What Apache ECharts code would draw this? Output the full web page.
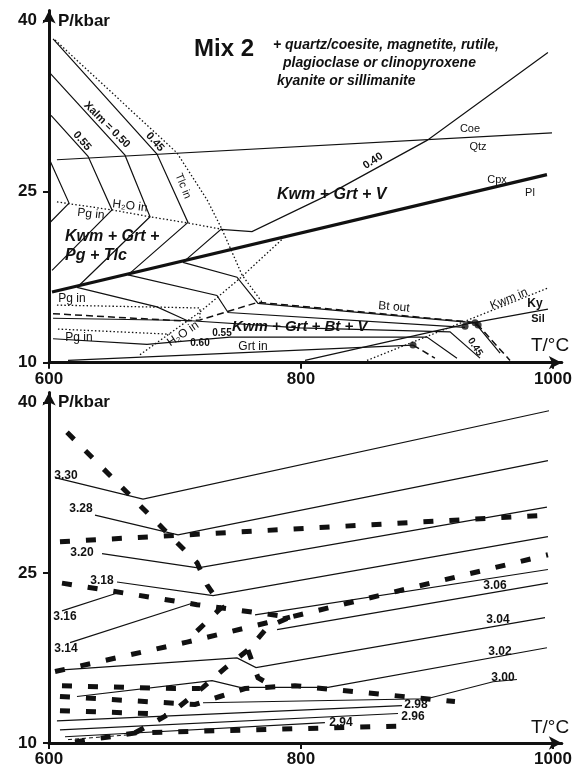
<!DOCTYPE html>
<html><head><meta charset="utf-8">
<script src="https://cdn.jsdelivr.net/npm/echarts@6/dist/echarts.min.js"></script>
<style>html,body{margin:0;padding:0;background:#fff}#c{width:582px;height:768px}</style>
</head><body><div id="c"></div>
<script>
// ---------- tick labels ----------
const xTicks = [600, 800, 1000];
const yTicks = [10, 25, 40];

// ---------- TOP PANEL (T °C, P kbar) ----------
const t_iso1 = [[600,27.9],[615.9,24.0],[600.8,22.3]];
const t_iso2 = [[601.6,31.7],[631,28.1],[650,23.4],[602.4,18.1]];
const t_iso3 = [[600.8,35.4],[660.3,28.2],[680.2,22.8],[622.2,16.6]];
const t_iso4 = [[603.2,38.4],[685.7,28.3],[710.3,22.3],[662.7,17.7]];
const t_iso5 = [[996,37.2],[900,29.5],[817.5,24.5],[761.1,21.5],[736.5,21.7],[706.3,18.8]];
const t_coeQtz = [[606.3,27.8],[999.2,30.15]];
const t_cpxPl = [[602.4,16.2],[995.2,26.5]];
const t_low1 = [[622.2,16.6],[685.7,14.9],[709.5,13.7],[799.2,13.05],[918.3,12.7],[942.1,10.4]];
const t_low2 = [[603.2,13.9],[709.5,13.7]];
const t_low3 = [[662.7,17.7],[733.3,15.9],[742.1,14.4],[930.2,13.1]];
const t_low4 = [[706.3,18.8],[749.2,17.5],[765.9,15.2],[938.1,13.5],[958,10.85]];
const t_low5 = [[603.2,12.1],[677.8,11.6],[743.7,12.25],[900,12.25],[923.8,10.4]];
const t_grtIn = [[615.1,10.2],[888.9,11.55]];
const t_grtTail = [[888.9,11.55],[906.3,10.4]];
const t_kySil = [[803.2,10.2],[931.8,13.4],[996,14.7]];
const t_kwmIn = [[852.4,10.2],[996,16.55]];
const t_btOut = [[603.2,14.3],[707.9,13.65],[719.8,13.75],[765.9,15.3],[936.5,13.55]];
const t_dashTail = [[939.7,13.4],[965.9,10.2]];
const t_h2oUp = [[606.3,24.1],[650,23.4],[680.2,22.8],[710.3,22.25],[737.3,21.7]];
const t_tlcIn = [[604.8,38.3],[701.6,28.4],[725.4,24.3],[737.3,21.7],[753.2,17.7],[769.1,15.3]];
const t_pgIn1 = [[606.3,15.05],[719.8,14.8],[719.8,13.75]];
const t_pgIn2 = [[607.1,12.95],[696,12.5]];
const t_h2oLow = [[672.2,10.7],[719.8,14.45],[751.6,17.4],[785.7,20.9]];
const t_dots = [[888.9,11.55],[930.2,13.2],[938.2,13.5],[940.6,13.3]];

// ---------- BOTTOM PANEL ----------
const b_330 = [[604.8,33.4],[674.6,31.5],[996.8,39.3]];
const b_328 = [[636.5,30.1],[702.4,28.35],[996,34.9]];
const b_320 = [[642.1,26.7],[718.3,25.45],[995.2,30.8]];
const b_318 = [[654,24.2],[730.2,23.0],[996,28.2]];
const b_316a = [[610.3,21.65],[654.8,23.25]];
const b_316b = [[763.5,21.3],[996,25.3]];
const b_314 = [[616.7,18.85],[714.3,22.35]];
const b_306 = [[781,20],[996,24.1]];
const b_304 = [[604.8,16.4],[749.2,17.5],[764.3,16.65],[993.7,21.05]];
const b_302 = [[622.2,14.1],[729.4,15.5],[751.6,14.9],[821.4,14.9],[995.2,18.4]];
const b_300 = [[722.2,13.55],[900,13.9],[952.4,15.4],[971.4,15.6]];
const b_298 = [[606.3,11.95],[880.2,13.3]];
const b_296 = [[608.7,11.15],[877,12.6]];
const b_294 = [[612.7,10.55],[819,11.8]];
const d_1 = [[614.3,37.4],[717.5,25.9],[725.4,23.95],[737.3,22.0],[710.3,19.1]];
const d_2 = [[608.7,27.75],[996,30.1]];
const d_3 = [[610.3,24.1],[717.5,22.2],[791.3,21.1],[996,26.6]];
const d_4 = [[604.8,16.3],[709.5,18.9],[773,20.6],[791.3,21.1]];
const d_6 = [[668.3,10.9],[697.6,12.7],[722.2,14.9],[739.7,16.6],[757.9,18.2],[773.8,20.25],[791.3,21.1]];
const d_7 = [[757.9,18.2],[765.9,15.75],[777,15.05]];
const d_9 = [[610.3,15.05],[700,14.8],[719.8,14.8]];
const d_10 = [[608.7,14.1],[715.9,13.4],[735.7,14.1],[755.6,14.8],[795.2,15.05],[922.2,13.65]];
const d_11 = [[608.7,12.85],[680.2,12.6],[692.1,12.4]];
const d_12 = [[620.6,10.1],[669.8,10.9],[880.9,11.5]];
const d_thin = [[615.1,10.3],[666.7,10.75]];

// ---------- styles ----------
const ST = {
  solid:  {width:1.2, type:'solid'},
  thick:  {width:3.2, type:'solid'},
  dotted: {width:1.3, type:[1.5,2.2]},
  dash:   {width:1.5, type:[7,4]},
  big:    {width:5,   type:[10,16]},
  thin:   {width:1,   type:[4,3]}
};
function L(data, gi, st){
  return {type:'line', xAxisIndex:gi, yAxisIndex:gi, data:data, symbol:'none', showSymbol:false,
    silent:true, lineStyle:{color:'#111', width:st.width, type:st.type, cap:'butt', join:'miter'}};
}
const FF = '"Liberation Sans", Arial, sans-serif';
function xAx(gi){
  return {type:'value', gridIndex:gi, min:600, max:1007,
    axisLine:{show:true, onZero:false, lineStyle:{color:'#111', width:3}, symbol:['none','arrow'], symbolSize:[10,13]},
    axisTick:{show:true, customValues:xTicks, length:6, lineStyle:{color:'#111', width:2}},
    axisLabel:{customValues:xTicks, margin:8, fontSize:17, fontWeight:'bold', color:'#111', fontFamily:FF,
      formatter:function(v){return String(v);}},
    splitLine:{show:false}};
}
function yAx(gi){
  return {type:'value', gridIndex:gi, min:10, max:40.9,
    axisLine:{show:true, onZero:false, lineStyle:{color:'#111', width:3}, symbol:['none','arrow'], symbolSize:[10,13]},
    axisTick:{show:true, customValues:yTicks, length:6, lineStyle:{color:'#111', width:2}},
    axisLabel:{customValues:yTicks, margin:12, fontSize:17, fontWeight:'bold', color:'#111', fontFamily:FF,
      formatter:function(v){return String(v);}},
    splitLine:{show:false}};
}
function T(text, x, y, font, rot, align){
  return {type:'text', x:x, y:y, rotation:rot||0, z:100,
    style:{text:text, font:font + ' ' + FF, fill:'#111',
      align:align||'center', verticalAlign:'middle', textAlign:align||'center', textVerticalAlign:'middle'}};
}
const deg = Math.PI/180;

const series = [
  L(t_iso1,0,ST.solid), L(t_iso2,0,ST.solid), L(t_iso3,0,ST.solid), L(t_iso4,0,ST.solid), L(t_iso5,0,ST.solid),
  L(t_coeQtz,0,ST.solid), L(t_cpxPl,0,ST.thick),
  L(t_low1,0,ST.solid), L(t_low2,0,ST.solid), L(t_low3,0,ST.solid), L(t_low4,0,ST.solid), L(t_low5,0,ST.solid),
  L(t_grtIn,0,ST.solid), L(t_grtTail,0,ST.dash), L(t_kySil,0,ST.solid), L(t_kwmIn,0,ST.dotted),
  L(t_btOut,0,ST.dash), L(t_dashTail,0,ST.dash),
  L(t_h2oUp,0,ST.dotted), L(t_tlcIn,0,ST.dotted), L(t_pgIn1,0,ST.dotted), L(t_pgIn2,0,ST.dotted), L(t_h2oLow,0,ST.dotted),
  {type:'scatter', xAxisIndex:0, yAxisIndex:0, data:t_dots, symbolSize:7, itemStyle:{color:'#111'}, silent:true},
  L(b_330,1,ST.solid), L(b_328,1,ST.solid), L(b_320,1,ST.solid), L(b_318,1,ST.solid),
  L(b_316a,1,ST.solid), L(b_316b,1,ST.solid), L(b_314,1,ST.solid), L(b_306,1,ST.solid),
  L(b_304,1,ST.solid), L(b_302,1,ST.solid), L(b_300,1,ST.solid), L(b_298,1,ST.solid), L(b_296,1,ST.solid), L(b_294,1,ST.solid),
  L(d_1,1,ST.big), L(d_2,1,ST.big), L(d_3,1,ST.big), L(d_4,1,ST.big), L(d_6,1,ST.big), L(d_7,1,ST.big),
  L(d_9,1,ST.big), L(d_10,1,ST.big), L(d_11,1,ST.big), L(d_12,1,ST.big), L(d_thin,1,ST.thin)
];

const texts = [
  T('P/kbar', 58, 21, 'bold 17px', 0, 'left'),
  T('P/kbar', 58, 402, 'bold 17px', 0, 'left'),
  T('T/°C', 550, 346, '19px'),
  T('T/°C', 550, 728, '19px'),
  T('Mix 2', 224, 49, 'bold 24px'),
  T('+ quartz/coesite, magnetite, rutile,', 273, 45, 'italic bold 14px', 0, 'left'),
  T('plagioclase or clinopyroxene', 283, 63, 'italic bold 14px', 0, 'left'),
  T('kyanite or sillimanite', 277, 81, 'italic bold 14px', 0, 'left'),
  T('Kwm + Grt + V', 277, 195, 'italic bold 16px', 0, 'left'),
  T('Kwm + Grt +', 65, 237, 'italic bold 16px', 0, 'left'),
  T('Pg + Tlc', 65, 256, 'italic bold 16px', 0, 'left'),
  T('Kwm + Grt + Bt + V', 232, 327, 'italic bold 15px', 0, 'left'),
  T('Xalm = 0.50', 107, 125, 'bold 11px', -45*deg),
  T('0.55', 82, 141, 'bold 11px', -50*deg),
  T('0.45', 155, 142, 'bold 11px', -48*deg),
  T('Tlc in', 183, 186, '11px', -68*deg),
  T('0.40', 373, 161, 'bold 11px', 33*deg),
  T('Coe', 470, 129, '11px'),
  T('Qtz', 478, 147, '11px'),
  T('Cpx', 497, 180, '11px'),
  T('Pl', 530, 193, '11px'),
  T('H₂O in', 130, 206, '12px', -7*deg),
  T('Pg in', 91, 214, '12px', -6*deg),
  T('Pg in', 72, 299, '12px'),
  T('Pg in', 79, 338, '12px'),
  T('H₂O in', 183, 334, '12px', 34*deg),
  T('0.55', 222, 333, 'bold 10px'),
  T('0.60', 200, 343, 'bold 10px'),
  T('Grt in', 253, 347, '12px'),
  T('Bt out', 394, 307, '12px', -5*deg),
  T('Kwm in', 509, 299, '12px', 22*deg),
  T('Ky', 535, 304, 'bold 12px'),
  T('Sil', 538, 319, 'bold 11px'),
  T('0.45', 475, 347, 'bold 10px', -57*deg),
  T('3.30', 66, 476, 'bold 12px'),
  T('3.28', 81, 509, 'bold 12px'),
  T('3.20', 82, 553, 'bold 12px'),
  T('3.18', 102, 581, 'bold 12px'),
  T('3.16', 65, 617, 'bold 12px'),
  T('3.14', 66, 649, 'bold 12px'),
  T('3.06', 495, 586, 'bold 12px'),
  T('3.04', 498, 620, 'bold 12px'),
  T('3.02', 500, 652, 'bold 12px'),
  T('3.00', 503, 678, 'bold 12px'),
  T('2.98', 416, 705, 'bold 12px'),
  T('2.96', 413, 717, 'bold 12px'),
  T('2.94', 341, 723, 'bold 12px')
];

const chart = echarts.init(document.getElementById('c'), null, {renderer:'canvas'});
chart.setOption({
  animation:false,
  backgroundColor:'#fff',
  grid:[
    {left:49, top:10.4, width:512.8, height:352.3},
    {left:49, top:392.6, width:512.8, height:350.7}
  ],
  xAxis:[xAx(0), xAx(1)],
  yAxis:[yAx(0), yAx(1)],
  series:series,
  graphic:texts
});
</script></body></html>
